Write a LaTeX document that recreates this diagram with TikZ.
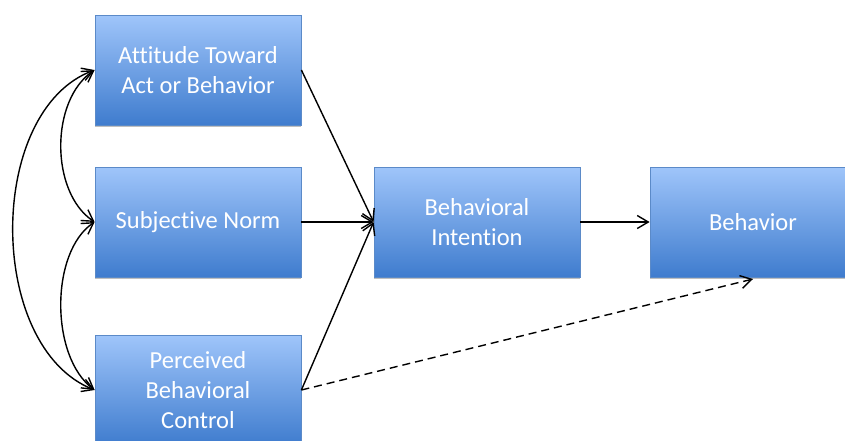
\documentclass[tikz,border=0pt]{standalone}
\usepackage{fontspec}
\setmainfont[Ligatures={NoCommon}]{Carlito}
\usetikzlibrary{arrows.meta,shadows}
\definecolor{boxtop}{HTML}{9FC5FA}
\definecolor{boxbot}{HTML}{3F7CCE}
\definecolor{boxline}{HTML}{5B8AC8}
\tikzset{
  box/.style={draw=boxline, line width=0.8pt, top color=boxtop, bottom color=boxbot,
    minimum width=206, minimum height=110, inner sep=0pt, align=center,
    text=white, font=\fontsize{24.5}{30}\selectfont,
    drop shadow={shadow xshift=0pt, shadow yshift=-2pt, opacity=0.25, fill=black}},
  conn/.style={line width=1.4pt, -{Straight Barb[length=11pt,width=13pt,line width=1.4pt]}},
  both/.style={line width=1.4pt, {Straight Barb[length=11pt,width=13pt,line width=1.4pt]}-{Straight Barb[length=11pt,width=13pt,line width=1.4pt]}},
  dashconn/.style={conn, dash pattern=on 8pt off 5pt}
}
\begin{document}
\begin{tikzpicture}[x=1pt,y=-1pt]
\useasboundingbox (0,0) rectangle (845,440);
\clip (0,0) rectangle (845,440);
\node[box] (att) at (198,70) {Attitude Toward\\Act or Behavior};
\node[box] (sn) at (198,222) {Subjective Norm};
\node[box] (pbc) at (198,390) {Perceived\\Behavioral\\Control};
\node[box] (bi) at (477,222) {Behavioral\\Intention};
\node[box] (beh) at (753,222) {Behavior};
\coordinate (behin) at (753,279);
% left curved arrows
\draw[both] (att.west) .. controls (-14,110) and (-14,347) .. (pbc.west);
\draw[both] (att.west) .. controls (50,100) and (50,192) .. (sn.west);
\draw[both] (sn.west) .. controls (50,252) and (50,357) .. (pbc.west);
% straight arrows
\draw[conn] (att.east) -- (bi.west);
\draw[conn] (sn.east) -- (bi.west);
\draw[conn] (pbc.east) -- (bi.west);
\draw[conn] (bi.east) -- (beh.west);
\draw[dashconn] (pbc.east) -- (behin);
\end{tikzpicture}
\end{document}
